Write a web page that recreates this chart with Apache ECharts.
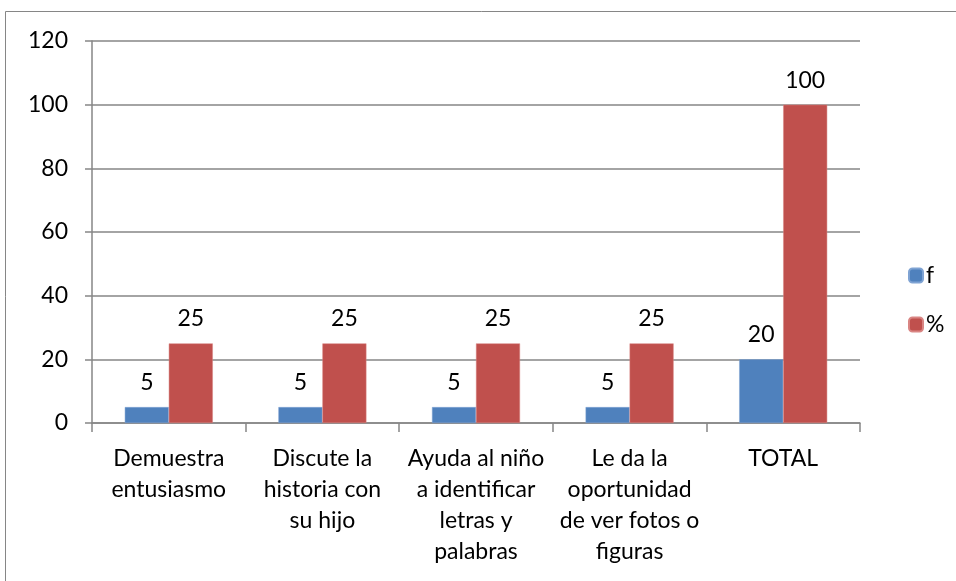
<!DOCTYPE html>
<html>
<head>
<meta charset="utf-8">
<script src="https://cdn.jsdelivr.net/npm/echarts@6/dist/echarts.min.js"></script>
<style>
  html, body { margin: 0; padding: 0; background: #fff; }
  #main { width: 956px; height: 581px; }
</style>
</head>
<body>
<div id="main"></div>
<script>
var categories = [
    'Demuestra\nentusiasmo',
    'Discute la\nhistoria con\nsu hijo',
    'Ayuda al niño\na identificar\nletras y\npalabras',
    'Le da la\noportunidad\nde ver fotos o\nfiguras',
    'TOTAL'
];
var fValues = [5, 5, 5, 5, 20];
var pctValues = [25, 25, 25, 25, 100];
var yTicks = [0, 20, 40, 60, 80, 100, 120];

var font = 'Lato, "Liberation Sans", sans-serif';
var gray = '#868686';
var fs = 23;

var myChart = echarts.init(document.getElementById('main'));
var option = {
    animation: false,
    textStyle: {fontFamily: font},
    graphic: [{
        type: 'rect',
        shape: {x: 5.5, y: 11.5, width: 1200, height: 1200},
        style: {fill: 'none', stroke: gray, lineWidth: 1},
        silent: true
    }],
    grid: {left: 92, right: 96, top: 41, bottom: 158},
    legend: {
        orient: 'vertical',
        left: 903,
        top: 259,
        itemWidth: 14,
        itemHeight: 14,
        itemGap: 26,
        textStyle: {fontSize: fs, color: '#000', fontFamily: font, padding: [0, 0, 0, -2]},
        data: ['f', '%']
    },
    xAxis: {
        type: 'category',
        data: categories,
        axisLine: {lineStyle: {color: gray, width: 1.5}},
        axisTick: {show: true, length: 9, lineStyle: {color: gray, width: 1.5}},
        axisLabel: {
            interval: 0,
            margin: 20,
            color: '#000',
            fontSize: fs,
            lineHeight: 31,
            fontFamily: font
        }
    },
    yAxis: {
        type: 'value',
        min: yTicks[0],
        max: yTicks[yTicks.length - 1],
        interval: 20,
        axisLine: {show: true, lineStyle: {color: gray, width: 1.5}},
        axisTick: {show: true, length: 7, lineStyle: {color: gray, width: 1.5}},
        splitLine: {lineStyle: {color: gray, width: 1.5}},
        axisLabel: {color: '#000', fontSize: fs, margin: 24, fontFamily: font}
    },
    series: [
        {
            name: 'f',
            type: 'bar',
            data: fValues,
            barWidth: 44,
            barGap: '0%',
            itemStyle: {color: '#4F81BD', borderColor: '#7FA3D3', borderWidth: 0.5},
            label: {show: true, position: 'top', distance: 13, color: '#000', fontSize: fs, fontFamily: font}
        },
        {
            name: '%',
            type: 'bar',
            data: pctValues,
            barWidth: 44,
            barGap: '0%',
            itemStyle: {color: '#C0504D', borderColor: '#D98583', borderWidth: 0.5},
            label: {show: true, position: 'top', distance: 13, color: '#000', fontSize: fs, fontFamily: font}
        }
    ]
};
myChart.setOption(option);
</script>
</body>
</html>
